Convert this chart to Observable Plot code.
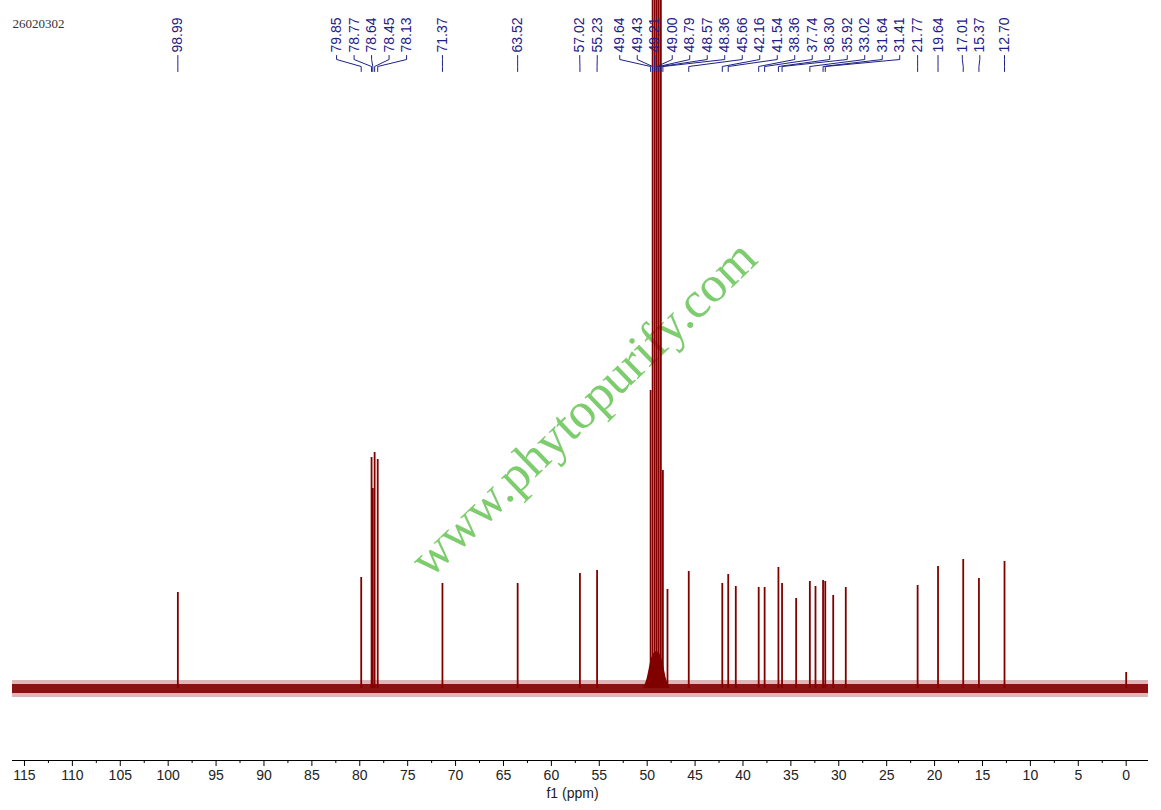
<!DOCTYPE html>
<html>
<head>
<meta charset="utf-8">
<script src="https://cdn.jsdelivr.net/npm/d3@7"></script>
<script src="https://cdn.jsdelivr.net/npm/@observablehq/plot@0.6"></script>
<style>
  html, body { margin: 0; padding: 0; background: #ffffff; }
  #chart svg { display: block; }
</style>
</head>
<body>
<div id="chart"></div>
<script>
// ---------------- data ----------------
const sampleId = "26020302";
const watermark = "www.phytopurify.com";
const axisLabel = "f1 (ppm)";
const xTicks = [115, 110, 105, 100, 95, 90, 85, 80, 75, 70, 65, 60, 55, 50, 45, 40, 35, 30, 25, 20, 15, 10, 5, 0];
const xMinorTicks = [112.5, 107.5, 102.5, 97.5, 92.5, 87.5, 82.5, 77.5, 72.5, 67.5, 62.5, 57.5, 52.5, 47.5, 42.5, 37.5, 32.5, 27.5, 22.5, 17.5, 12.5, 7.5, 2.5];

// picked (labelled) peaks: chemical shift (ppm) and intensity (arbitrary units)
const labeledShifts = [98.99, 79.85, 78.77, 78.64, 78.45, 78.13, 71.37, 63.52, 57.02, 55.23,
  49.64, 49.43, 49.21, 49.00, 48.79, 48.57, 48.36, 45.66, 42.16, 41.54, 38.36, 37.74,
  36.30, 35.92, 33.02, 31.64, 31.41, 21.77, 19.64, 17.01, 15.37, 12.70];
const labeledHeights = [96, 111, 231, 200, 236, 229, 105, 105, 115, 118,
  298, 760, 760, 760, 760, 760, 218, 117, 105, 114, 101, 101,
  121, 105, 107, 108, 107, 103, 122, 129, 110, 127];

// visible peaks without a label
const otherShifts = [47.88, 40.75, 34.45, 32.43, 30.58, 29.27, 0.0];
const otherHeights = [99, 102, 90, 102, 93, 101, 16];

// broad base under the solvent (CD3OD) multiplet
const humpShifts = [50.4, 50.0, 49.75, 49.45, 49.0, 48.55, 48.25, 48.0, 47.6];
const humpLevels = [0, 8, 22, 34, 38, 34, 22, 8, 0];

// baseline noise envelope
const noiseShifts = [116.25, -2.33];
const noiseInnerLow = [-5, -5];
const noiseInnerHigh = [4, 4];
const noiseOuterLow = [-9, -9];
const noiseOuterHigh = [8, 8];

// ---------------- layout / style ----------------
const W = 1161, H = 810;
const mL = 12, mR = 13, mT = 0, mB = 50;
const xDomain = [116.25, -2.33];
const yDomain = [-72, 688];
const maroon = "#800000";
const navy = "#1d2088";
const labelGap = 17.5;
const clusterGap = labelGap + 5;

const xScale = Plot.scale({x: {domain: xDomain, range: [mL, W - mR]}});
const yScale = Plot.scale({y: {domain: yDomain, range: [H - mB, mT]}});

// label spreading: merge overlapping labels into clusters centred on their peaks
function spreadLabels(px, gap, sepGap) {
  let clusters = px.map((p, i) => ({members: [i], start: p}));
  const end = c => c.start + (c.members.length - 1) * gap;
  let merged = true;
  while (merged) {
    merged = false;
    for (let k = 0; k < clusters.length - 1; k++) {
      const a = clusters[k], b = clusters[k + 1];
      if (b.start - end(a) < gap - 1e-9) {
        const members = a.members.concat(b.members);
        let start = d3.mean(members, i => px[i]) - (members.length - 1) * gap / 2;
        if (k > 0) start = Math.max(start, end(clusters[k - 1]) + sepGap);
        clusters.splice(k, 2, {members, start});
        merged = true;
        break;
      }
    }
  }
  const out = new Array(px.length);
  for (const c of clusters) c.members.forEach((i, j) => { out[i] = c.start + j * gap; });
  return out;
}

const peakPx = labeledShifts.map(v => xScale.apply(v));
const labelPx = spreadLabels(peakPx, labelGap, clusterGap);

const labels = labeledShifts.map((v, i) => ({
  text: v.toFixed(2),
  lx: xScale.invert(labelPx[i]),
  px: v
}));

// connector rows (pixels from top)
const rowTextBottom = 52, rowA = 55, rowB = 59, rowC = 66, rowD = 71;
const connectors = labels.flatMap((d, i) => [
  {id: i, x: d.lx, y: yScale.invert(rowA)},
  {id: i, x: d.lx, y: yScale.invert(rowB)},
  {id: i, x: d.px, y: yScale.invert(rowC)},
  {id: i, x: d.px, y: yScale.invert(rowD)}
]);

const peaks = labeledShifts.map((v, i) => ({ppm: v, h: labeledHeights[i]}))
  .concat(otherShifts.map((v, i) => ({ppm: v, h: otherHeights[i]})));
const hump = humpShifts.map((v, i) => ({ppm: v, h: humpLevels[i]}));
const noise = noiseShifts.map((v, i) => ({
  ppm: v, lo: noiseInnerLow[i], hi: noiseInnerHigh[i], lo2: noiseOuterLow[i], hi2: noiseOuterHigh[i]
}));

const chart = Plot.plot({
  width: W,
  height: H,
  marginLeft: mL,
  marginRight: mR,
  marginTop: mT,
  marginBottom: mB,
  style: {fontFamily: "'Liberation Sans', Arial, sans-serif", fontSize: "14px", background: "#ffffff"},
  x: {domain: xDomain, axis: null},
  y: {domain: yDomain, axis: null},
  marks: [
    // watermark
    Plot.text([watermark], {
      frameAnchor: "middle", dx: 3, dy: 28, rotate: -44,
      fontSize: 51, fontFamily: "'Liberation Serif', 'Times New Roman', serif",
      fill: "#7dcc6e", text: d => d
    }),
    // baseline noise
    Plot.areaY(noise, {x: "ppm", y1: "lo2", y2: "hi2", fill: maroon, fillOpacity: 0.28}),
    Plot.areaY(noise, {x: "ppm", y1: "lo", y2: "hi", fill: maroon, fillOpacity: 0.9}),
    // solvent base
    Plot.areaY(hump, {x: "ppm", y1: 0, y2: "h", fill: maroon, curve: "basis"}),
    // peaks
    Plot.ruleX(peaks, {x: "ppm", y1: 0, y2: "h", stroke: maroon, strokeWidth: 1.8, clip: true}),
    // x axis
    Plot.ruleY([yDomain[0]], {stroke: "#000", strokeWidth: 1}),
    Plot.axisX(xTicks, {anchor: "bottom", tickSize: 6, tickPadding: 4, label: null, fontSize: 14, fill: "#222", stroke: "#000"}),
    Plot.axisX(xMinorTicks, {anchor: "bottom", tickSize: 3, text: null, label: null, stroke: "#000"}),
    Plot.text([axisLabel], {frameAnchor: "bottom", dx: -8, dy: 37, fontSize: 14, fill: "#222", text: d => d}),
    // sample id
    Plot.text([sampleId], {
      frameAnchor: "top-left", dy: 18, textAnchor: "start",
      fontSize: 13, fontFamily: "'Liberation Serif', 'Times New Roman', serif", fill: "#333", text: d => d
    }),
    // peak labels
    Plot.text(labels, {
      x: "lx", frameAnchor: "top", dy: rowTextBottom, rotate: -90,
      textAnchor: "start", lineAnchor: "middle", text: "text", fontSize: 14, fill: navy
    }),
    Plot.line(connectors, {x: "x", y: "y", z: "id", stroke: navy, strokeWidth: 1})
  ]
});

document.getElementById("chart").appendChild(chart);
</script>
</body>
</html>
